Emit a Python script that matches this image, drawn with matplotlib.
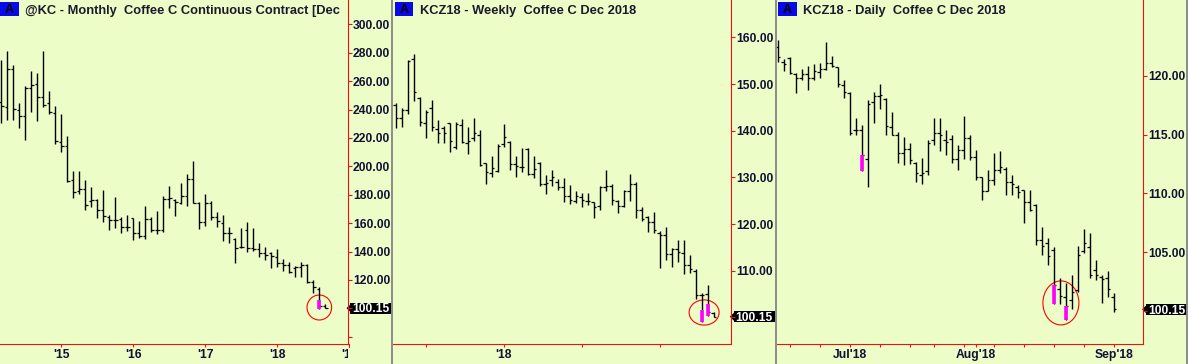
import matplotlib
matplotlib.use("Agg")
import matplotlib.pyplot as plt
from matplotlib.patches import Ellipse, Rectangle, Polygon
from matplotlib.lines import Line2D
from matplotlib.transforms import offset_copy, blended_transform_factory, Bbox, TransformedBbox

# @KC monthly, Mar 2014 .. Sep 2018
monthly_high = [274.8, 281.2, 271.3, 244.3, 256.5, 267.1, 265.7, 281.2, 253.0, 242.4,
                236.8, 221.6, 196.7, 196.7, 190.3, 185.6, 177.0, 183.3, 165.7, 178.4,
                164.5, 165.7, 163.8, 161.4, 172.0, 164.5, 168.5, 179.3, 185.8, 176.7,
                188.0, 194.6, 203.7, 174.6, 180.5, 175.6, 168.1, 165.7, 157.0, 149.3,
                156.3, 160.5, 156.3, 145.8, 142.9, 139.9, 141.8, 134.5, 132.4, 129.8,
                132.4, 131.2, 119.9, 115.2, 103.0]
monthly_low = [230.7, 232.8, 232.8, 226.7, 218.7, 238.5, 232.1, 242.0, 236.6, 215.4,
               210.3, 188.7, 177.4, 180.2, 169.4, 171.6, 163.3, 161.0, 155.1, 156.8,
               152.8, 154.4, 148.1, 149.3, 148.8, 153.5, 152.1, 153.9, 170.4, 165.2,
               173.5, 172.3, 173.9, 155.8, 158.0, 162.2, 157.5, 147.6, 146.2, 132.1,
               142.2, 139.9, 140.6, 136.4, 134.0, 128.1, 129.3, 126.5, 124.6, 121.8,
               122.3, 118.1, 111.0, 99.5, 99.9]
monthly_open = [245.0, 241.5, 268.3, 239.4, 235.4, 254.9, 257.7, 249.0, 244.3, 237.8,
                216.9, 214.5, 190.1, 182.8, 184.0, 175.5, 176.3, 169.2, 164.5, 162.2,
                162.9, 157.5, 163.3, 152.8, 150.9, 162.9, 155.1, 155.1, 177.0, 176.3,
                173.9, 179.1, 190.8, 173.9, 161.0, 173.9, 164.5, 160.3, 152.8, 148.6,
                143.4, 155.1, 142.2, 141.5, 138.7, 138.7, 136.4, 132.1, 130.5, 128.6,
                129.3, 130.5, 118.7, 113.5, 101.8]
monthly_close = [242.7, 268.3, 240.1, 235.4, 254.9, 257.2, 248.6, 243.1, 238.5, 218.0,
                 214.5, 189.6, 182.1, 183.8, 172.7, 176.3, 169.2, 165.2, 162.2, 162.2,
                 157.0, 157.5, 152.8, 150.9, 162.9, 155.1, 155.1, 177.0, 177.4, 175.1,
                 179.1, 190.8, 173.9, 161.0, 173.9, 164.5, 161.5, 152.8, 153.3, 142.2,
                 143.4, 142.2, 141.5, 138.7, 137.5, 136.8, 132.1, 130.5, 125.8, 129.3,
                 130.5, 118.7, 114.8, 101.5, 100.15]
monthly_mark_bar = [53]
monthly_mark_top = [105.8]
monthly_mark_bottom = [99.5]
monthly_tick_pos = [10, 22, 34, 46]
monthly_tick_labels = ["'15", "'16", "'17", "'18"]

# KCZ18 weekly
weekly_high = [146.0, 144.8, 155.1, 156.4, 147.3, 144.4, 146.6, 142.3, 141.0, 141.7,
               141.9, 142.4, 140.7, 142.8, 140.1, 133.1, 134.6, 137.1, 141.4, 137.8,
               134.6, 136.2, 136.2, 134.6, 133.3, 130.5, 131.6, 129.6, 129.8, 128.4,
               127.1, 126.7, 126.7, 124.8, 128.1, 131.6, 128.6, 125.1, 127.3, 130.7,
               129.1, 123.6, 121.7, 122.6, 118.6, 119.3, 114.8, 116.6, 116.6, 113.4,
               110.3, 105.3, 106.9, 101.2]
weekly_low = [140.5, 140.7, 143.5, 146.4, 141.1, 138.4, 140.0, 137.4, 137.4, 135.5,
              136.0, 137.4, 135.1, 137.8, 132.4, 128.6, 130.1, 131.2, 136.4, 131.6,
              130.1, 131.2, 130.5, 129.8, 128.2, 126.4, 128.2, 127.3, 124.8, 124.4,
              124.6, 123.6, 124.1, 121.2, 123.1, 127.0, 124.1, 122.3, 123.7, 125.0,
              121.4, 120.7, 118.4, 118.1, 110.5, 112.4, 110.7, 111.9, 109.4, 109.6,
              103.9, 99.1, 100.2, 100.0]
weekly_open = [145.5, 142.8, 144.4, 155.3, 147.1, 141.7, 144.8, 140.3, 140.5, 141.6,
               136.4, 141.2, 137.4, 138.4, 139.1, 133.0, 131.0, 131.3, 137.1, 137.6,
               132.8, 132.3, 136.0, 130.8, 133.1, 128.6, 129.4, 129.1, 127.9, 126.0,
               125.0, 125.9, 125.0, 124.8, 123.9, 127.9, 128.1, 125.0, 123.9, 127.0,
               128.6, 123.0, 121.6, 120.5, 118.1, 117.6, 113.6, 114.6, 113.9, 111.2,
               110.0, 104.8, 105.1, 100.9]
weekly_close = [142.8, 144.4, 155.0, 148.2, 141.8, 144.1, 140.7, 139.6, 139.6, 137.8,
                141.4, 137.5, 137.8, 139.6, 132.6, 131.1, 132.1, 136.7, 138.7, 132.8,
                132.4, 132.3, 130.7, 131.7, 128.6, 128.7, 130.0, 128.0, 126.0, 125.1,
                126.0, 125.1, 125.0, 123.6, 127.9, 128.1, 125.1, 123.9, 127.0, 128.6,
                123.0, 121.0, 120.5, 118.7, 117.6, 113.6, 114.6, 114.1, 111.2, 110.3,
                104.8, 104.9, 101.2, 100.15]
weekly_mark_bar = [51, 52]
weekly_mark_top = [101.6, 102.9]
weekly_mark_bottom = [99.1, 100.2]
weekly_tick_pos = [5, 18, 31, 44]
weekly_tick_labels = ["", "'18", "", ""]

# KCZ18 daily
daily_high = [123.0, 121.4, 121.6, 120.2, 120.6, 120.8, 121.0, 121.1, 122.9, 121.7,
              120.7, 119.6, 118.6, 116.4, 115.8, 117.9, 118.6, 119.3, 118.1, 116.9,
              115.2, 114.8, 114.3, 112.7, 113.0, 114.5, 116.4, 116.4, 115.4, 115.0,
              114.1, 116.6, 115.0, 113.7, 111.4, 112.0, 113.4, 113.6, 112.2, 111.6,
              110.7, 110.3, 110.3, 109.1, 107.1, 106.2, 105.4, 102.8, 102.4, 103.1,
              105.5, 107.0, 106.6, 104.3, 103.1, 103.4, 101.5]
daily_low = [121.2, 120.4, 120.1, 118.5, 119.6, 118.8, 119.6, 119.8, 120.5, 120.7,
             119.0, 118.1, 115.0, 115.0, 111.9, 110.5, 116.0, 117.2, 115.0, 115.0,
             112.6, 112.4, 112.5, 111.0, 110.8, 111.6, 114.1, 113.6, 113.3, 112.6,
             112.0, 112.9, 112.8, 111.1, 109.4, 110.2, 110.7, 111.7, 109.9, 109.9,
             109.6, 107.5, 108.5, 105.6, 104.8, 103.9, 100.6, 100.6, 99.2, 100.2,
             101.6, 104.9, 102.8, 102.6, 100.7, 101.2, 99.9]
daily_open = [122.4, 121.2, 121.5, 120.1, 119.8, 120.1, 119.8, 120.3, 120.6, 121.1,
              120.7, 119.2, 118.5, 115.4, 115.4, 112.9, 117.8, 118.3, 118.0, 115.6,
              115.0, 113.4, 113.8, 112.6, 111.6, 111.9, 114.5, 115.1, 114.5, 114.6,
              112.9, 113.7, 114.7, 113.1, 111.4, 110.2, 111.1, 112.0, 112.1, 111.0,
              110.5, 110.3, 109.3, 109.0, 106.0, 105.8, 105.2, 101.9, 101.2, 100.9,
              101.8, 105.1, 105.4, 103.5, 102.9, 102.8, 101.2]
daily_close = [121.6, 121.0, 120.2, 119.8, 120.1, 119.8, 120.4, 120.6, 121.1, 120.8,
               119.3, 118.6, 115.1, 115.4, 113.3, 117.6, 118.3, 118.4, 115.7, 115.0,
               113.4, 113.8, 112.8, 111.7, 111.7, 114.3, 115.1, 115.0, 114.4, 112.9,
               113.7, 114.7, 113.1, 111.4, 110.2, 111.1, 112.0, 112.2, 111.0, 110.8,
               110.1, 109.3, 108.6, 106.0, 105.5, 104.7, 102.2, 101.3, 100.4, 101.6,
               104.8, 105.8, 103.1, 103.1, 102.7, 101.9, 100.15]
daily_mark_bar = [14, 46, 48]
daily_mark_top = [113.3, 102.2, 100.4]
daily_mark_bottom = [111.9, 100.6, 99.2]
daily_tick_pos = [2, 7, 12, 17, 22, 26, 31, 33, 36, 41, 46, 51, 56]
daily_tick_labels = ["", "", "Jul'18", "", "", "", "", "Aug'18", "", "", "", "", "Sep'18"]

W, H = 1188, 364
BG = "#EDFDC7"
NAVY = "#111133"
RED = "#EE1111"
FS = 8.7

plt.rcParams["font.family"] = ["Liberation Sans", "DejaVu Sans"]
plt.rcParams["font.weight"] = "bold"

fig = plt.figure(figsize=(W / 100, H / 100), dpi=100, facecolor=BG)


def draw_panel(left, right, xlim, ylim, high, low, opn, close, mark_bar, mark_top, mark_bot,
               yticks, first_label, xticks, xlabels, title, circle):
    ax = fig.add_axes([left / W, 20 / H, (right - left) / W, 344 / H])
    ax.set_facecolor(BG)
    ax.set_xlim(*xlim)
    ax.set_ylim(*ylim)
    x = list(range(len(high)))
    ax.vlines(x, low, high, color="black", lw=1.0)
    ax.hlines(opn, [i - 0.4 for i in x], x, color="black", lw=0.9)
    ax.hlines(close, x, [i + 0.4 for i in x], color="black", lw=0.9)
    ax.vlines(mark_bar, mark_bot, mark_top, color="#FF00FF", lw=2.6)

    cx, cy, cw, ch = circle
    ax.add_patch(Ellipse((cx, cy), cw, ch, fill=False, ec="red", lw=0.8))

    for s in ["top", "left"]:
        ax.spines[s].set_visible(False)
    for s in ["right", "bottom"]:
        ax.spines[s].set_color(RED)
        ax.spines[s].set_linewidth(0.8)

    ax.yaxis.tick_right()
    ax.set_yticks(yticks)
    ax.set_yticklabels([f"{t:.2f}" if t >= first_label else "" for t in yticks])
    ax.tick_params(axis="y", color=RED, labelcolor=NAVY, length=2.9, width=0.8,
                   pad=0.8, labelsize=FS)
    ax.set_xticks(xticks)
    ax.set_xticklabels(xlabels)
    ax.tick_params(axis="x", color=RED, labelcolor=NAVY, length=2.0, width=0.8,
                   pad=1.5, labelsize=FS)

    # last price tag
    last = close[-1]
    ax_w = right - left
    upp = (ylim[1] - ylim[0]) / 344
    blend = blended_transform_factory(ax.transAxes, ax.transData)
    ax.add_patch(Rectangle((1 + 2.5 / ax_w, last - 5.5 * upp), 41 / ax_w, 11 * upp,
                           transform=blend, fc="black", ec="none", clip_on=False))
    ax.add_patch(Polygon([(1 - 1.2 / ax_w, last), (1 + 3 / ax_w, last + 4 * upp),
                          (1 + 3 / ax_w, last - 4 * upp)],
                         transform=blend, fc="black", ec="none", clip_on=False))
    ax.text(1 + 4.5 / ax_w, last, f"{last:.2f}", color="white", fontsize=FS,
            ha="left", va="baseline", clip_on=False,
            transform=offset_copy(blend, fig=fig, x=0, y=-4.3, units="dots"))

    # header: blue "A" box and title
    box_l = 1.5 if left > 0 else 0
    ax.add_patch(Rectangle((box_l / ax_w, 1 - 15.5 / 344), 18.5 / ax_w, 13.5 / 344,
                           transform=ax.transAxes, fc="#0808E8", ec="none", clip_on=False))
    ax.text((box_l + 9.3) / ax_w, 1 - 13.3 / 344, "A", transform=ax.transAxes,
            ha="center", va="baseline", fontsize=9, color="black")
    t = ax.text((box_l + 25) / ax_w, 1 - 13.7 / 344, title, transform=ax.transAxes,
                ha="left", va="baseline", fontsize=9.3, color="#1A1A2A", clip_on=True)
    t.set_clip_box(ax.bbox)
    return ax


ax1 = draw_panel(0, 347.7, (-0.22, 57.73), (74.9, 317.1),
                 monthly_high, monthly_low, monthly_open, monthly_close,
                 monthly_mark_bar, monthly_mark_top, monthly_mark_bottom,
                 list(range(80, 301, 20)), 120, monthly_tick_pos, monthly_tick_labels,
                 "@KC - Monthly  Coffee C Continuous Contract [Dec",
                 (53.0, 100.6, 4.1, 17.6))
# next year label, cut off by the price axis
t19 = ax1.text(58, 0, "'19", ha="center", va="top", fontsize=FS, color=NAVY,
               transform=offset_copy(blended_transform_factory(ax1.transData, ax1.transAxes),
                                     fig=fig, x=0, y=-4.9, units="dots"))
t19.set_clip_path(None)
t19.set_clip_on(True)
t19.set_clip_box(TransformedBbox(Bbox([[0, -1], [1, 2]]), ax1.transAxes))
ax1.plot([58, 58], [0, -2.8 / 344], color=RED, lw=0.8, clip_on=False,
         transform=blended_transform_factory(ax1.transData, ax1.transAxes))

draw_panel(393, 731, (-0.45, 55.88), (94.3, 168.0),
           weekly_high, weekly_low, weekly_open, weekly_close,
           weekly_mark_bar, weekly_mark_top, weekly_mark_bottom,
           list(range(100, 161, 10)), 110, weekly_tick_pos, weekly_tick_labels,
           "KCZ18 - Weekly  Coffee C Dec 2018", (51.4, 101.05, 5.0, 5.4))

draw_panel(776.5, 1143.3, (-0.2, 60.93), (97.2, 126.43),
           daily_high, daily_low, daily_open, daily_close,
           daily_mark_bar, daily_mark_top, daily_mark_bottom,
           list(range(100, 121, 5)), 105, daily_tick_pos, daily_tick_labels,
           "KCZ18 - Daily  Coffee C Dec 2018", (47.2, 100.69, 6.0, 3.74))

# grey panel separators
for xp in [392, 776, 1187]:
    fig.add_artist(Line2D([xp / W, xp / W], [0, 1], transform=fig.transFigure,
                          color="#8C8C8C", lw=1.4))

fig.savefig("out.png", dpi=100, facecolor=BG)
